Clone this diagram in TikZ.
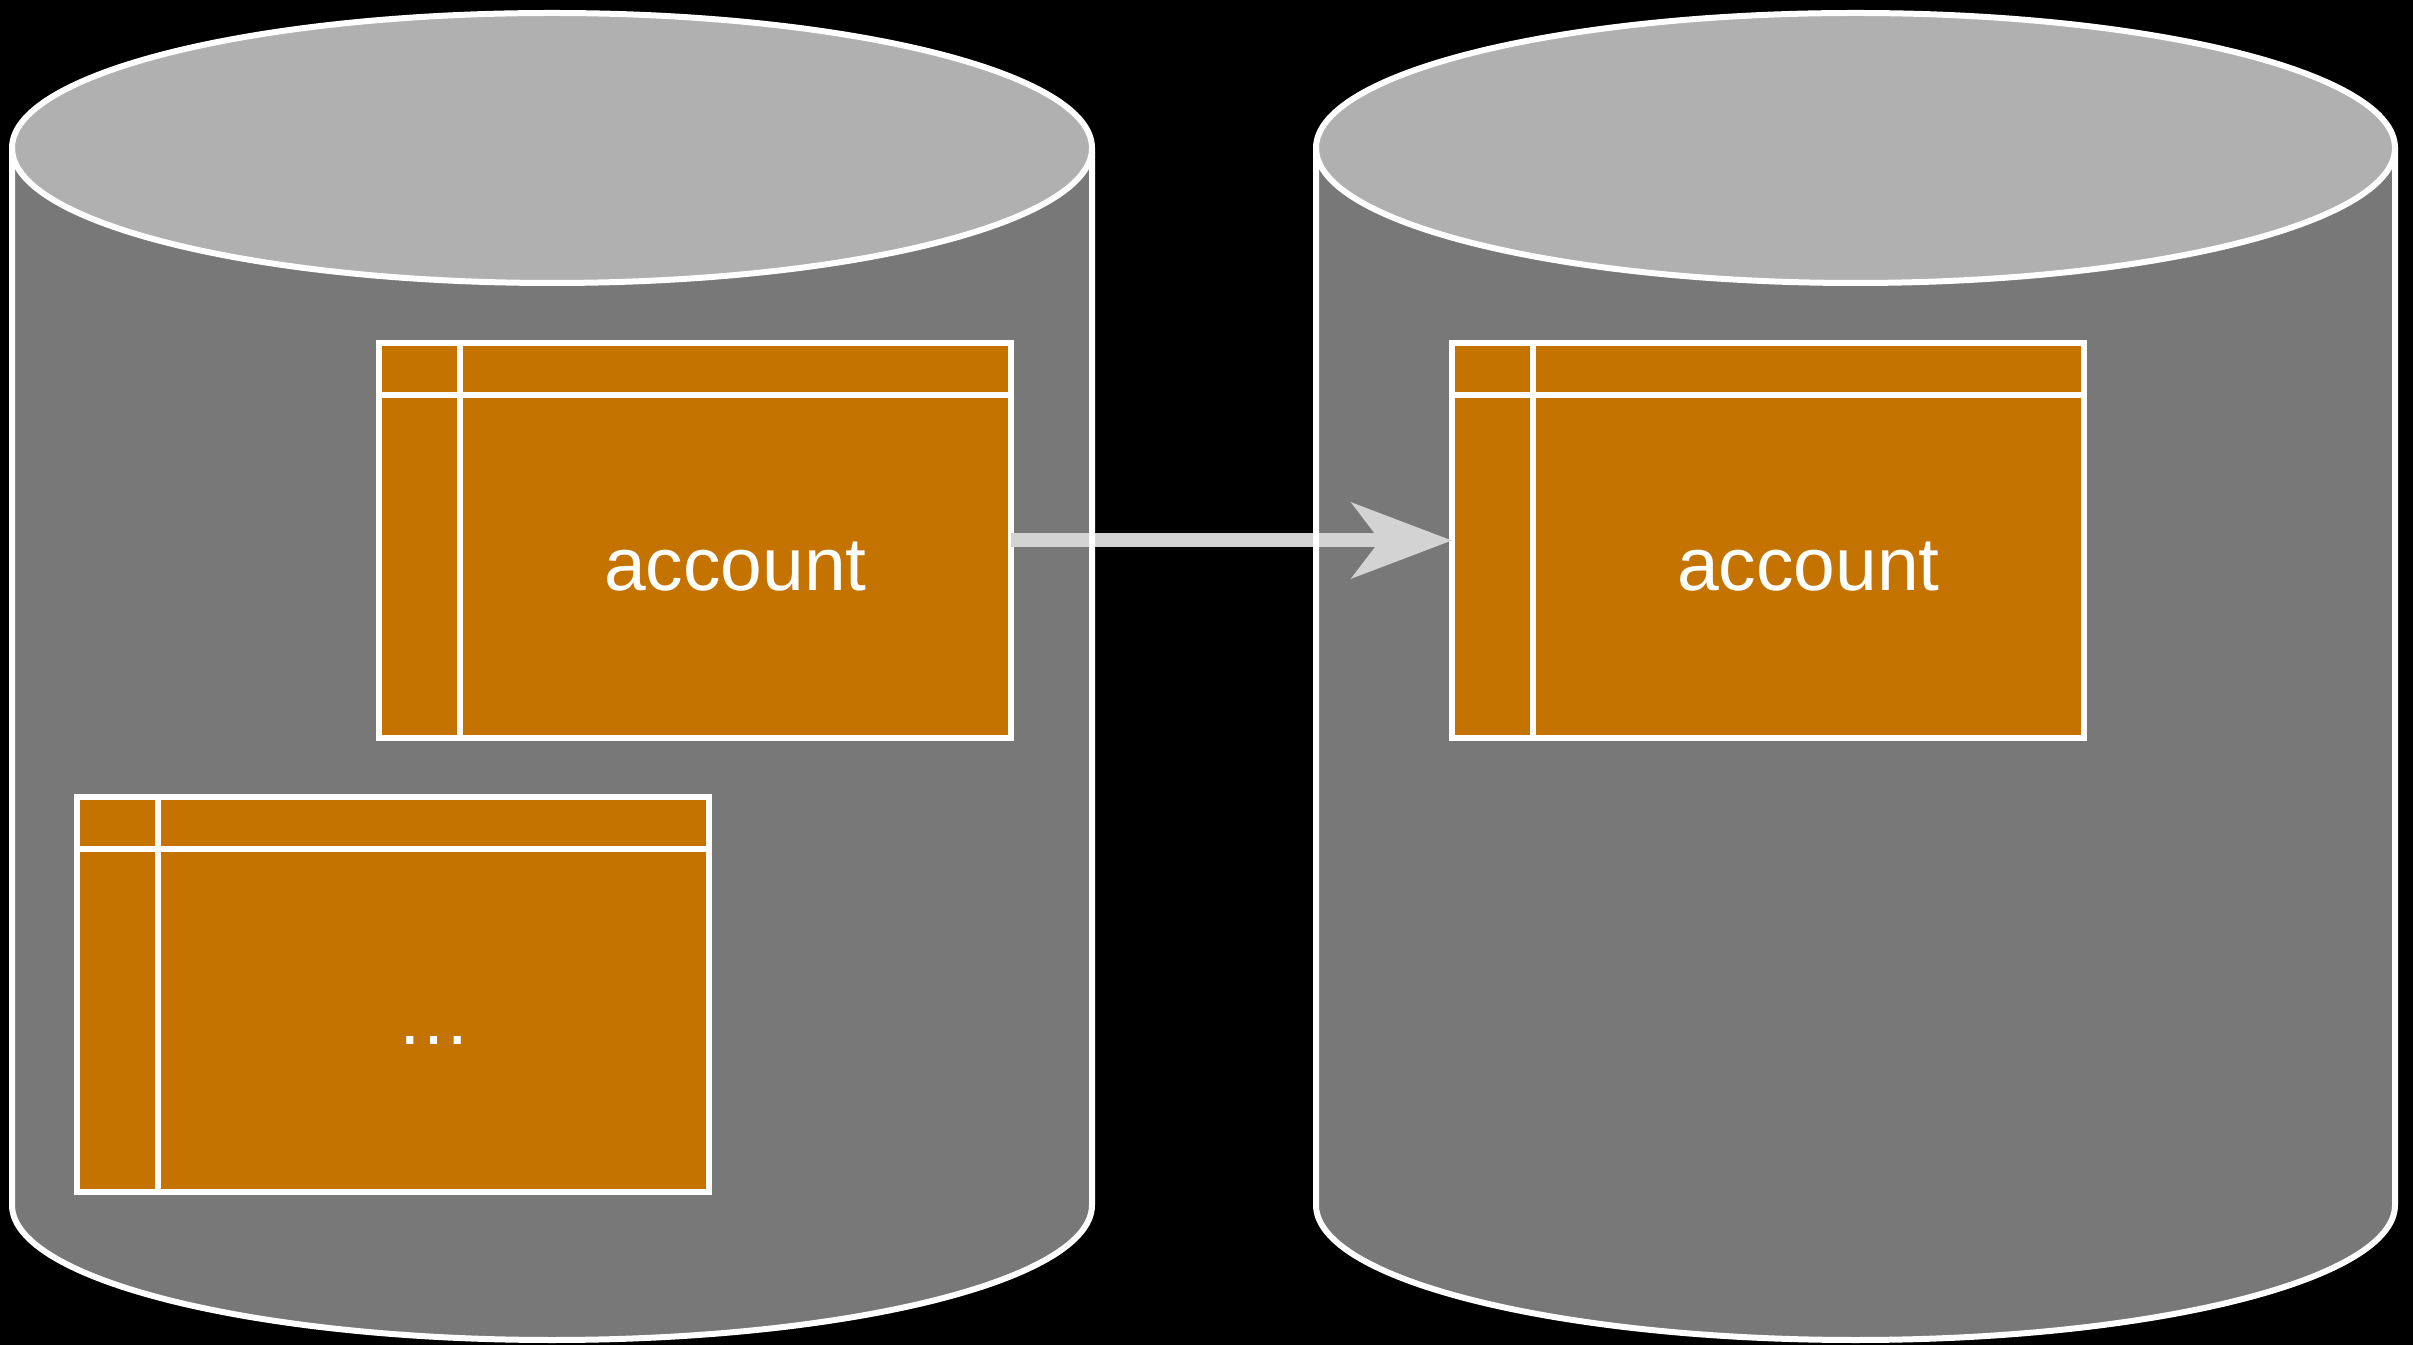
\documentclass[tikz,border=0pt]{standalone}
\usepackage{fontspec}
\setmainfont{Liberation Sans}
\usetikzlibrary{arrows.meta,calc}
\definecolor{cylbodycol}{HTML}{787878}
\definecolor{cyltopcol}{HTML}{B0B0B0}
\definecolor{taborange}{HTML}{C47300}
\definecolor{arrowgray}{HTML}{D3D3D3}
\tikzset{
  tablebox/.style={draw=white, fill=taborange, line width=3pt, minimum width=316pt, minimum height=197.5pt, inner sep=0pt, outer sep=0pt, anchor=north west},
  tabline/.style={draw=white, line width=3pt},
  tablabel/.style={text=white, font=\fontsize{37.5}{45}\selectfont, inner sep=0pt},
  cyloutline/.style={draw=white, line width=3pt},
  flow/.style={draw=arrowgray, line width=7pt, -{Stealth[length=50pt,width=37.5pt,inset=14pt]}}
}
\newcommand{\mycylfill}[2]{%
  \fill[cylbodycol] (#1-#2,1196) -- (#1-#2,139) arc[start angle=180,end angle=360,x radius=#2,y radius=135] -- (#1+#2,1196) -- cycle;
  \fill[cyltopcol] (#1,1196) ellipse[x radius=#2,y radius=135];
}
\newcommand{\mycyledge}[2]{%
  \draw[cyloutline] (#1-#2,1196) -- (#1-#2,139) arc[start angle=180,end angle=360,x radius=#2,y radius=135] -- (#1+#2,1196);
  \draw[cyloutline] (#1,1196) ellipse[x radius=#2,y radius=135];
}
\newcommand{\mytable}[4]{% name, x, y, label
  \node[tablebox] (#1) at (#2,#3) {};
  \draw[tabline] ($(#1.north west)+(0,-52)$) -- ($(#1.north east)+(0,-52)$);
  \draw[tabline] ($(#1.north west)+(81,0)$) -- ($(#1.south west)+(81,0)$);
  \node[tablabel] (#1label) at ($(#1.north west)!0.5!(#1.south east)+(40.5,-26)$) {#4\vphantom{account}};
}
\begin{document}
\begin{tikzpicture}[x=0.5pt,y=0.5pt]
  \useasboundingbox (0,0) rectangle (2413,1344);
  \fill[black] (-20,-20) rectangle (2433,1364);
  % cylinder fills
  \mycylfill{552}{540}
  \mycylfill{1855.5}{539.5}
  % tables
  \mytable{srcacc}{379}{1001}{account}
  \mytable{srcother}{77}{547}{…}
  \mytable{dstacc}{1452}{1001}{account}
  % arrow
  \draw[flow] (srcacc.east) -- (dstacc.west);
  % cylinder outlines
  \mycyledge{552}{540}
  \mycyledge{1855.5}{539.5}
\end{tikzpicture}
\end{document}
